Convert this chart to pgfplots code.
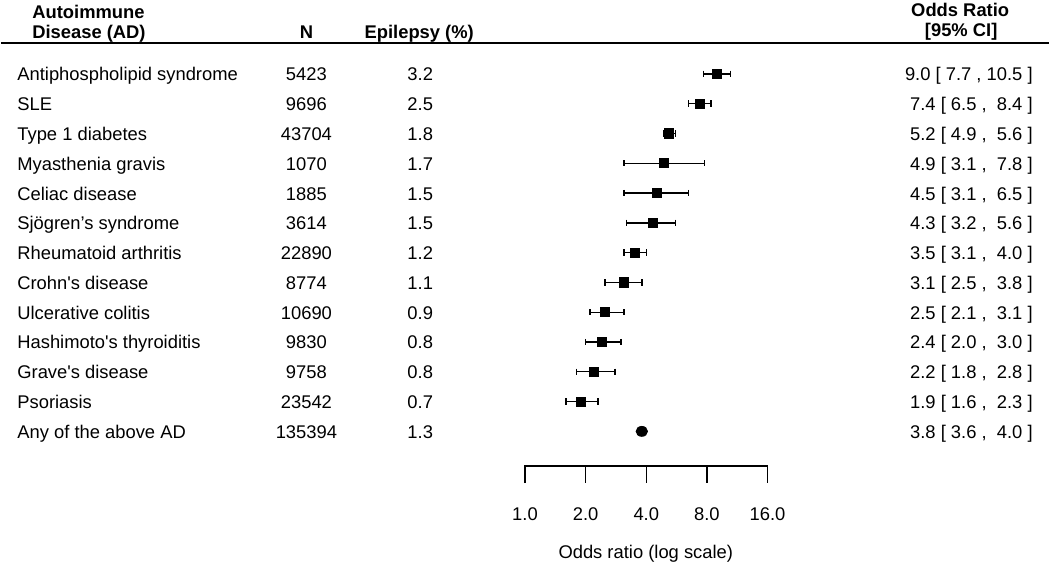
\documentclass[border=0pt]{standalone}
\usepackage{fontspec}
\setmainfont{Liberation Sans}
\usepackage{pgfplots}
\pgfplotsset{compat=1.18}

% 1 px of the reference = 0.5pt; x: px = 525 + 60.75*log2(OR); row i at px 74 + 29.85*i
\begin{document}
\begin{tikzpicture}[font=\fontsize{9.2}{11}\selectfont, every node/.style={inner sep=0pt}]
\begin{axis}[at={(0,0)}, anchor=north west, scale only axis,
  width=525pt, height=284pt,
  xmode=log, log basis x=2, xmin=0.002503, xmax=399.5,
  ymin=-16.55, ymax=2.479, hide axis, clip=false]

% confidence intervals
\addplot[black, line width=0.7pt, mark=|, mark size=1.6pt,
  mark options={solid, line width=0.7pt}, unbounded coords=jump] coordinates {
  (7.7,0) (10.5,0) (nan,nan)
  (6.5,-1) (8.4,-1) (nan,nan)
  (4.9,-2) (5.6,-2) (nan,nan)
  (3.1,-3) (7.8,-3) (nan,nan)
  (3.1,-4) (6.5,-4) (nan,nan)
  (3.2,-5) (5.6,-5) (nan,nan)
  (3.1,-6) (4.0,-6) (nan,nan)
  (2.5,-7) (3.8,-7) (nan,nan)
  (2.1,-8) (3.1,-8) (nan,nan)
  (2.0,-9) (3.0,-9) (nan,nan)
  (1.8,-10) (2.8,-10) (nan,nan)
  (1.6,-11) (2.3,-11)
};
% point estimates
\addplot[only marks, black, mark=square*, mark size=2.3pt] coordinates {
  (9.0,0) (7.4,-1) (5.2,-2) (4.9,-3) (4.5,-4) (4.3,-5) (3.5,-6)
  (3.1,-7) (2.5,-8) (2.4,-9) (2.2,-10) (1.9,-11)
};
% pooled estimate
\addplot[only marks, black, mark=*, mark size=2.5pt,
  mark options={xscale=1.15}] coordinates {(3.8,-12)};
\end{axis}

\begin{scope}[x=0.5pt, y=-0.5pt]
\path (0,0) rectangle (1050,568);
% header
\begin{scope}[every node/.append style={font=\fontsize{9.2}{11}\selectfont\bfseries}]
\node[anchor=base west] at (31,18.4) {Autoimmune};
\node[anchor=base west] at (31,38.4) {Disease (AD)};
\node[anchor=base] at (306,38.4) {N};
\node[anchor=base] at (419,38.4) {Epilepsy (\%)};
\node[anchor=base] at (961,16.4) {Odds Ratio};
\node[anchor=base] at (962,36.4) {[95\% CI]};
\end{scope}
\draw[line width=1pt] (0,43) -- (1050,43);
% table rows
\foreach \i/\nm/\n/\ep/\ort in {
  0/Antiphospholipid syndrome/5423/3.2/{9.0 [ 7.7 , 10.5 ]},
  1/SLE/9696/2.5/{7.4 [ 6.5 ,~ 8.4 ]},
  2/Type 1 diabetes/43704/1.8/{5.2 [ 4.9 ,~ 5.6 ]},
  3/Myasthenia gravis/1070/1.7/{4.9 [ 3.1 ,~ 7.8 ]},
  4/Celiac disease/1885/1.5/{4.5 [ 3.1 ,~ 6.5 ]},
  5/Sjögren’s syndrome/3614/1.5/{4.3 [ 3.2 ,~ 5.6 ]},
  6/Rheumatoid arthritis/22890/1.2/{3.5 [ 3.1 ,~ 4.0 ]},
  7/Crohn\textquotesingle s disease/8774/1.1/{3.1 [ 2.5 ,~ 3.8 ]},
  8/Ulcerative colitis/10690/0.9/{2.5 [ 2.1 ,~ 3.1 ]},
  9/Hashimoto\textquotesingle s thyroiditis/9830/0.8/{2.4 [ 2.0 ,~ 3.0 ]},
  10/Grave\textquotesingle s disease/9758/0.8/{2.2 [ 1.8 ,~ 2.8 ]},
  11/Psoriasis/23542/0.7/{1.9 [ 1.6 ,~ 2.3 ]},
  12/Any of the above AD/135394/1.3/{3.8 [ 3.6 ,~ 4.0 ]}} {
  \pgfmathsetmacro\yb{74+29.85*\i+7}
  \node[anchor=base west] at (16,\yb) {\nm};
  \node[anchor=base] at (306,\yb) {\n};
  \node[anchor=base] at (420,\yb) {\ep};
  \node[anchor=base east] at (1034,\yb) {\ort};
}
% log scale
\draw[line width=0.7pt] (525,484) -- (525,467) -- (768,467) -- (768,484);
\foreach \t in {585.75, 646.5, 707.25} {
  \draw[line width=0.7pt] (\t,467) -- (\t,484);
}
\foreach \t/\lab in {525/1.0, 585.75/2.0, 646.5/4.0, 707.25/8.0, 768/16.0} {
  \node[anchor=base] at (\t,521.4) {\lab};
}
\node[anchor=base] at (646,559.4) {Odds ratio (log scale)};
\end{scope}
\end{tikzpicture}
\end{document}
